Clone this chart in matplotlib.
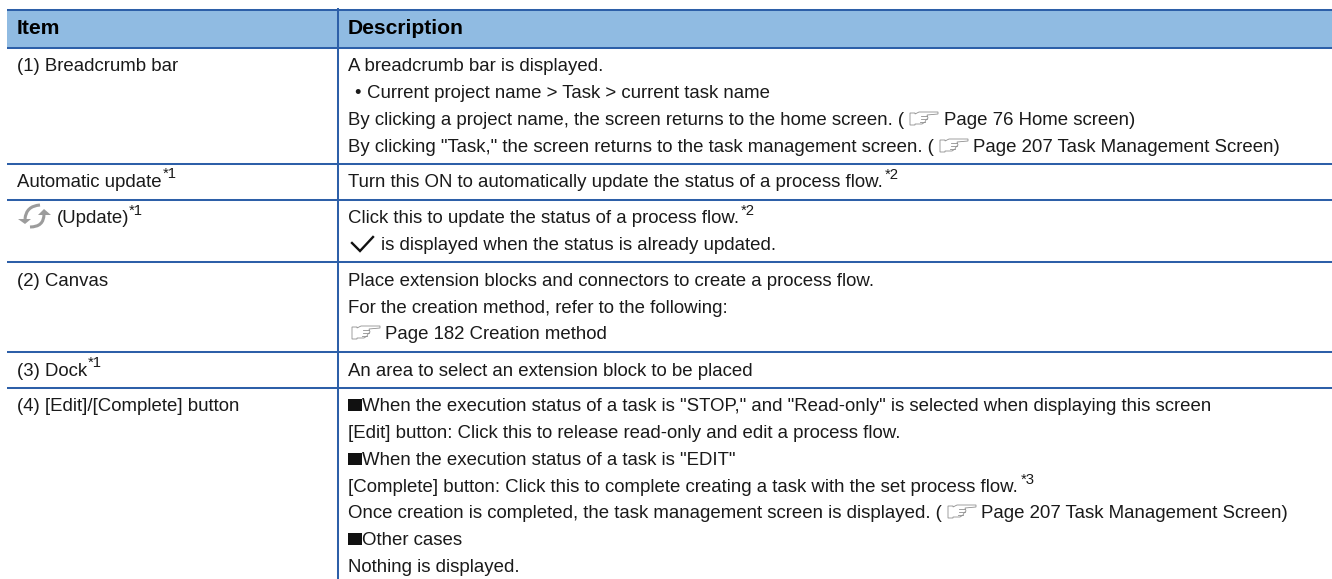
import matplotlib
matplotlib.use('Agg')
import matplotlib.pyplot as plt
from matplotlib.patches import Rectangle, Polygon, PathPatch
from matplotlib.path import Path

W, H = 1332, 579
BLUE = '#2d5fa8'
HEAD = '#90bbe2'
INK = '#1a1a1a'
ICON = '#9c9c9c'
FS = 13.43
SUP = 10.7

plt.rcParams['font.family'] = ['Liberation Sans', 'DejaVu Sans']

# table geometry
header = ['Item', 'Description']
row_lines = [10, 48, 164, 200, 262, 352, 388]

# text, x, baseline y
items = [
    ('(1) Breadcrumb bar', 17, 71),
    ('Automatic update', 17, 187),
    ('(Update)', 57, 223),
    ('(2) Canvas', 17, 286),
    ('(3) Dock', 17, 376),
    ('(4) [Edit]/[Complete] button', 17, 411),
]
item_sups = [
    ('*1', 163, 178),
    ('*1', 129, 215),
    ('*1', 88, 367),
]

desc = [
    ('A breadcrumb bar is displayed.', 348, 71),
    ('\u2022', 354, 98),
    ('Current project name > Task > current task name', 367, 98),
    ('By clicking a project name, the screen returns to the home screen. (', 348, 125),
    ('Page 76 Home screen)', 944, 125),
    ('By clicking "Task," the screen returns to the task management screen. (', 348, 152),
    ('Page 207 Task Management Screen)', 973, 152),
    ('Turn this ON to automatically update the status of a process flow.', 348, 187),
    ('Click this to update the status of a process flow.', 348, 223),
    ('is displayed when the status is already updated.', 381, 250),
    ('Place extension blocks and connectors to create a process flow.', 348, 286),
    ('For the creation method, refer to the following:', 348, 313),
    ('Page 182 Creation method', 385, 339),
    ('An area to select an extension block to be placed', 348, 376),
    ('When the execution status of a task is "STOP," and "Read-only" is selected when displaying this screen', 362, 411),
    ('[Edit] button: Click this to release read-only and edit a process flow.', 348, 438),
    ('When the execution status of a task is "EDIT"', 362, 465),
    ('[Complete] button: Click this to complete creating a task with the set process flow.', 348, 492),
    ('Once creation is completed, the task management screen is displayed. (', 348, 518),
    ('Page 207 Task Management Screen)', 981, 518),
    ('Other cases', 362, 545),
    ('Nothing is displayed.', 348, 572),
]
desc_sups = [
    ('*2', 885, 179),
    ('*2', 741, 215),
    ('*3', 1021, 484),
]
squares = [411, 465, 545]
hands = [(910, 125), (940, 152), (352, 339), (948, 518)]

fig = plt.figure(figsize=(W / 100, H / 100), dpi=100)
ax = fig.add_axes([0, 0, 1, 1])
ax.set_xlim(0, W)
ax.set_ylim(H, 0)
ax.axis('off')

ax.add_patch(Rectangle((7, 10), W - 7, 38, fc=HEAD, ec='none'))
for y in row_lines:
    ax.plot([7, W], [y, y], color=BLUE, lw=1.45, solid_capstyle='butt')
ax.plot([338, 338], [8, H], color=BLUE, lw=1.45, solid_capstyle='butt')

ax.text(17, 34, header[0], fontsize=15.2, fontweight='bold', color='black', va='baseline')
ax.text(348, 34, header[1], fontsize=15.2, fontweight='bold', color='black', va='baseline')


def put(rows, size=FS):
    for s, x, y in rows:
        ax.text(x, y, s, fontsize=size, color=INK, va='baseline')


put(items)
put(desc)
put(item_sups, SUP)
put(desc_sups, SUP)

for y in squares:
    ax.add_patch(Rectangle((348, y - 12), 13.5, 12, fc='#111111', ec='none'))


# little pointing hand used for page references
def hand(x, y):
    outline = [(0, -12), (5, -12), (5, -11), (9, -13), (28, -13), (28, -11), (17, -10),
               (18, -7), (16, -5), (15, -3), (12, -1), (5, -1), (5, 0), (0, 0)]
    ax.add_patch(Polygon([(x + a, y + b) for a, b in outline], closed=True,
                         fc='white', ec='#8f8f8f', lw=0.6))
    for a, b, c in [(11, 17, -9), (11, 17, -6), (10, 15, -3)]:
        ax.plot([x + a, x + b], [y + c, y + c], color='#8f8f8f', lw=0.6)


for x, y in hands:
    hand(x, y)

# update icon, two curved arrows
top = Path([(25, 219), (26, 206), (40, 205)], [Path.MOVETO, Path.CURVE3, Path.CURVE3])
bottom = Path([(44, 214), (44, 227), (30, 227)], [Path.MOVETO, Path.CURVE3, Path.CURVE3])
ax.add_patch(PathPatch(top, fc='none', ec=ICON, lw=2.2))
ax.add_patch(PathPatch(bottom, fc='none', ec=ICON, lw=2.2))
ax.add_patch(Polygon([(18, 219), (31, 219), (25, 224)], closed=True, fc=ICON, ec='none'))
ax.add_patch(Polygon([(38, 215), (51, 215), (44, 209)], closed=True, fc=ICON, ec='none'))

# check mark
ax.plot([352, 360, 373], [243, 251, 237], color='#111111', lw=1.7, solid_joinstyle='miter')

fig.savefig('out.png', dpi=100, facecolor='white')
